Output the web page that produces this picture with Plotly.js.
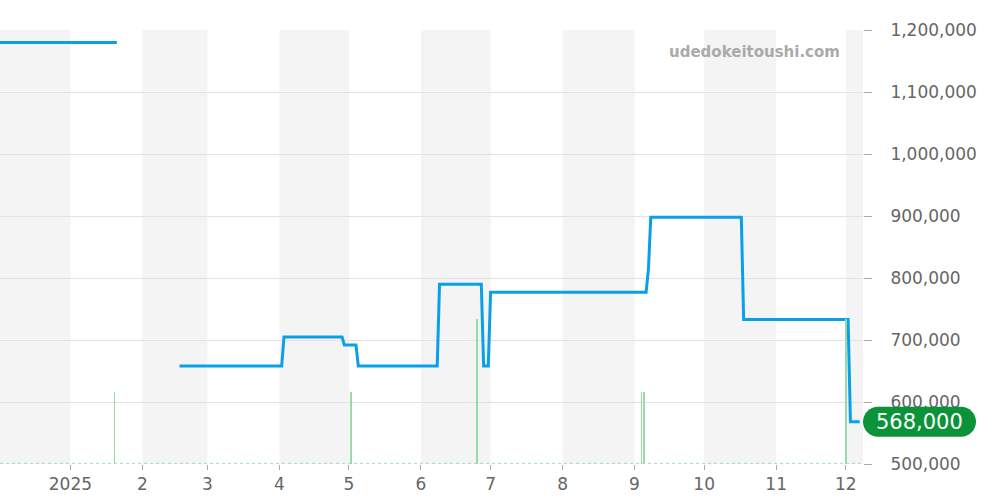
<!DOCTYPE html>
<html><head><meta charset="utf-8">
<script src="https://cdn.plot.ly/plotly-3.0.1.min.js"></script>
<style>html,body{margin:0;padding:0;background:#fff}#chart{width:1000px;height:500px}</style>
</head><body><div id="chart"></div>
<script>
const priceDates = ['2024-11-20','2025-01-21','2025-01-22','2025-02-17','2025-04-02','2025-04-03','2025-04-28','2025-04-29','2025-05-04','2025-05-05','2025-06-08','2025-06-09','2025-06-27','2025-06-28','2025-06-30','2025-07-01','2025-09-06','2025-09-07','2025-09-08','2025-10-17','2025-10-18','2025-12-02','2025-12-03','2025-12-07'];
const priceValues = [1180000,1180000,null,658000,658000,705000,705000,692000,692000,658000,658000,790000,790000,658000,658000,777000,777000,815000,898000,898000,733000,733000,568000,568000];
const volumeDates = ['2025-01-20','2025-05-02','2025-06-25','2025-09-04','2025-09-05','2025-12-01'];
const volumeValues = [1,1,2,1,1,2];
const shadedMonths = ['2024-12-01','2025-02-01','2025-04-01','2025-06-01','2025-08-01','2025-10-01','2025-12-01'];
const xTickDates = ['2025-01-01','2025-02-01','2025-03-01','2025-04-01','2025-05-01','2025-06-01','2025-07-01','2025-08-01','2025-09-01','2025-10-01','2025-11-01','2025-12-01'];
const xTickLabels = ['2025','2','3','4','5','6','7','8','9','10','11','12'];
const yTickValues = [500000,600000,700000,800000,900000,1000000,1100000,1200000];
const watermark = 'udedokeitoushi.com';

const lastPrice = priceValues[priceValues.length - 1];
const lastPriceLabel = lastPrice.toLocaleString('en-US');

function nextMonth(d) {
  const dt = new Date(d + 'T00:00:00Z');
  dt.setUTCMonth(dt.getUTCMonth() + 1);
  return dt.toISOString().slice(0, 10);
}

const shapes = shadedMonths.map(m => ({
  type: 'rect', xref: 'x', yref: 'paper', x0: m, x1: nextMonth(m), y0: 0, y1: 1,
  fillcolor: '#f4f4f4', line: {width: 0}, layer: 'below'
}));
shapes.push({
  type: 'line', xref: 'paper', yref: 'paper', x0: 0, x1: 1, y0: 0.0015, y1: 0.0015,
  line: {color: '#a6dcb2', width: 1, dash: 'dot'}, layer: 'above'
});
shapes.push({
  type: 'path', xref: 'paper', yref: 'y', xsizemode: 'pixel', ysizemode: 'pixel',
  xanchor: 1, yanchor: lastPrice,
  path: 'M 15,15 L 98,15 C 106.3,15 113,8.3 113,0 C 113,-8.3 106.3,-15 98,-15 L 15,-15 C 6.7,-15 0,-8.3 0,0 C 0,8.3 6.7,15 15,15 Z',
  fillcolor: '#0b9339', line: {width: 0}, layer: 'above'
});

const traces = [
  {
    x: volumeDates, y: volumeValues, type: 'bar', yaxis: 'y2',
    width: 0.8 * 86400000, marker: {color: '#9ad9a8', line: {width: 0}},
    hoverinfo: 'skip', showlegend: false
  },
  {
    x: priceDates, y: priceValues, type: 'scatter', mode: 'lines',
    line: {color: '#0aa0e8', width: 3}, connectgaps: false, showlegend: false
  }
];

const layout = {
  width: 1000, height: 500,
  margin: {l: 0, r: 137, t: 30, b: 36},
  paper_bgcolor: '#ffffff', plot_bgcolor: '#ffffff',
  showlegend: false,
  font: {family: 'DejaVu Sans', color: '#666'},
  xaxis: {
    type: 'date', range: ['2024-12-01 16:00', '2025-12-08 10:00'],
    tickmode: 'array', tickvals: xTickDates, ticktext: xTickLabels,
    ticks: 'outside', ticklen: 5, tickcolor: '#aaa',
    showgrid: false, zeroline: false, showline: false,
    tickfont: {family: 'DejaVu Sans', size: 17, color: '#666'}
  },
  yaxis: {
    side: 'right', range: [500000, 1200000],
    tickmode: 'array', tickvals: yTickValues, tickformat: ',d',
    ticks: 'outside', ticklen: 8, tickcolor: '#aaa', ticklabelstandoff: 15,
    showgrid: true, gridcolor: '#e2e2e2', zeroline: false, showline: false,
    tickfont: {family: 'DejaVu Sans', size: 17, color: '#666'}
  },
  yaxis2: {overlaying: 'y', range: [0, 6], visible: false},
  bargap: 0,
  shapes: shapes,
  annotations: [
    {
      xref: 'paper', yref: 'paper', x: 842 / 863, y: (464 - 52) / 434,
      xanchor: 'right', yanchor: 'middle', showarrow: false, text: watermark,
      font: {family: 'DejaVu Sans', size: 15, color: '#aaa', weight: 'bold'}
    },
    {
      xref: 'paper', yref: 'y', x: 1, y: lastPrice, xanchor: 'center', yanchor: 'middle',
      xshift: 56.5, showarrow: false, text: lastPriceLabel,
      font: {family: 'DejaVu Sans', size: 21, color: '#ffffff'}
    }
  ]
};

Plotly.newPlot('chart', traces, layout, {displayModeBar: false, staticPlot: true});
</script>
</body></html>
